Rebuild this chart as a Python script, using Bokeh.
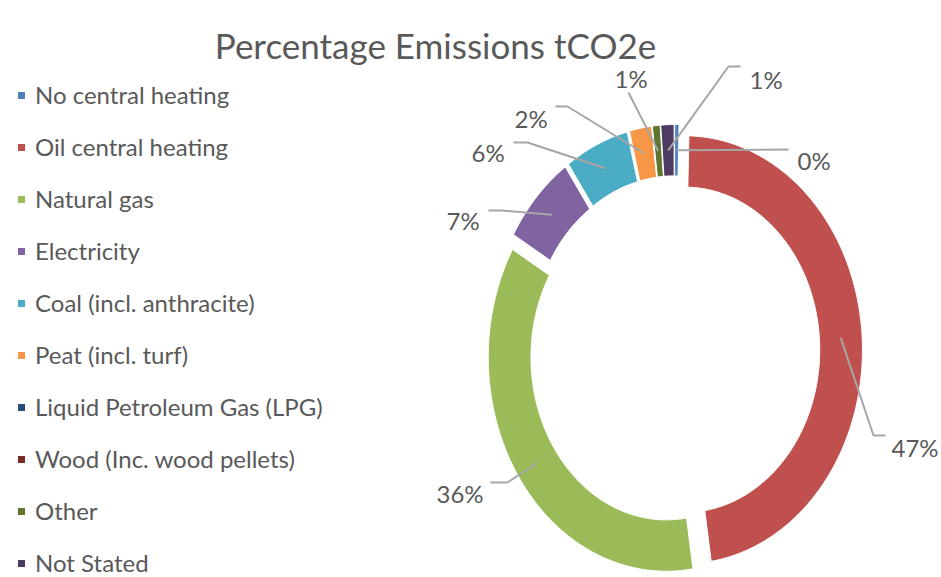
import numpy as np
from bokeh.plotting import figure
from bokeh.models import Range1d, Legend, LegendItem
from bokeh.embed import file_html
from bokeh.resources import INLINE
from bokeh.core.properties import value

# Share of emissions (tCO2e) by main heating fuel, in percent
categories = [
    "No central heating",
    "Oil central heating",
    "Natural gas",
    "Electricity",
    "Coal (incl. anthracite)",
    "Peat (incl. turf)",
    "Liquid Petroleum Gas (LPG)",
    "Wood (Inc. wood pellets)",
    "Other",
    "Not Stated",
]
shares = [0.4, 47.2, 35.8, 6.9, 5.8, 2.0, 0.0, 0.0, 0.7, 1.2]
colors = ["#4F81BD", "#C0504D", "#9BBB59", "#8064A2", "#4BACC6",
          "#F79646", "#2C4D75", "#772C2A", "#5F7530", "#4D3B62"]
title_text = "Percentage Emissions tCO2e"

# Ring geometry in page pixels (y grows downward)
CX, CY = 674, 350
RX, RY = 178, 214
HOLE = 0.76
EXPLODE = 0.056
TEXT = "#595959"
FONT = "Lato"

# Data-label placement: (text left x, text baseline y), leader bend points
label_layout = {
    0: ((797, 160), [(788, 149)]),
    1: ((891, 447), [(873, 435), (885, 435)]),
    2: ((436, 493), [(507, 482), (490, 482)]),
    3: ((446, 220), [(502, 210), (488, 210)]),
    4: ((471, 152), [(527, 142), (513, 142)]),
    5: ((514, 118), [(567, 106), (555, 106)]),
    8: ((614, 78), [(628, 92)]),
    9: ((749, 79), [(728, 66), (740, 66)]),
}

total = float(sum(shares))
bounds = np.concatenate([[0.0], np.cumsum(shares)]) / total * 2 * np.pi

xs, ys, anchors = [], [], []
for i, s in enumerate(shares):
    a0, a1 = bounds[i], bounds[i + 1]
    mid = 0.5 * (a0 + a1)
    ox = RX * EXPLODE * np.sin(mid)
    oy = -RY * EXPLODE * np.cos(mid)
    t = np.linspace(a0, a1, max(2, int(np.degrees(a1 - a0)) + 2))
    outer_x = CX + ox + RX * np.sin(t)
    outer_y = CY + oy - RY * np.cos(t)
    inner_x = CX + ox + RX * HOLE * np.sin(t[::-1])
    inner_y = CY + oy - RY * HOLE * np.cos(t[::-1])
    xs.append(list(np.concatenate([outer_x, inner_x])))
    ys.append(list(np.concatenate([outer_y, inner_y])))
    rm = 0.5 * (1 + HOLE)
    anchors.append((CX + ox + RX * rm * np.sin(mid), CY + oy - RY * rm * np.cos(mid)))

p = figure(width=941, height=577, x_range=Range1d(0, 941), y_range=Range1d(577, 0),
           output_backend="svg", toolbar_location=None, min_border=0,
           x_axis_type=None, y_axis_type=None)
p.grid.visible = False
p.outline_line_color = None
p.background_fill_color = "white"
p.border_fill_color = "white"

ring = p.patches(xs=xs, ys=ys, fill_color=colors, line_color="white", line_width=1)

# Leader lines and data labels
lx, ly, lt, line_xs, line_ys = [], [], [], [], []
for i, s in enumerate(shares):
    if i not in label_layout:
        continue
    (tx, ty), bends = label_layout[i]
    ax, ay = anchors[i]
    line_xs.append([ax] + [b[0] for b in bends])
    line_ys.append([ay] + [b[1] for b in bends])
    lx.append(tx)
    ly.append(ty)
    lt.append(f"{round(s)}%")

p.multi_line(xs=line_xs, ys=line_ys, line_color="#A6A6A6", line_width=2)
p.text(x=lx, y=ly, text=lt, text_font=value(FONT), text_font_size="24px",
       text_color=TEXT, text_align="left", text_baseline="alphabetic")

p.text(x=[435], y=[44], text=[title_text], text_font=value(FONT), text_font_size="35px",
       text_color=TEXT, text_align="center", text_baseline="alphabetic")

legend = Legend(
    items=[LegendItem(label=c, renderers=[ring], index=i) for i, c in enumerate(categories)],
    location=(16, 0),
    orientation="vertical",
    glyph_width=10, glyph_height=10,
    label_standoff=9, label_height=29,
    spacing=23, padding=0, margin=0,
    border_line_color=None, background_fill_alpha=0,
    label_text_font=FONT, label_text_font_size="24px", label_text_color=TEXT,
)
p.add_layout(legend)

open("out.html", "w").write(file_html(p, INLINE))
